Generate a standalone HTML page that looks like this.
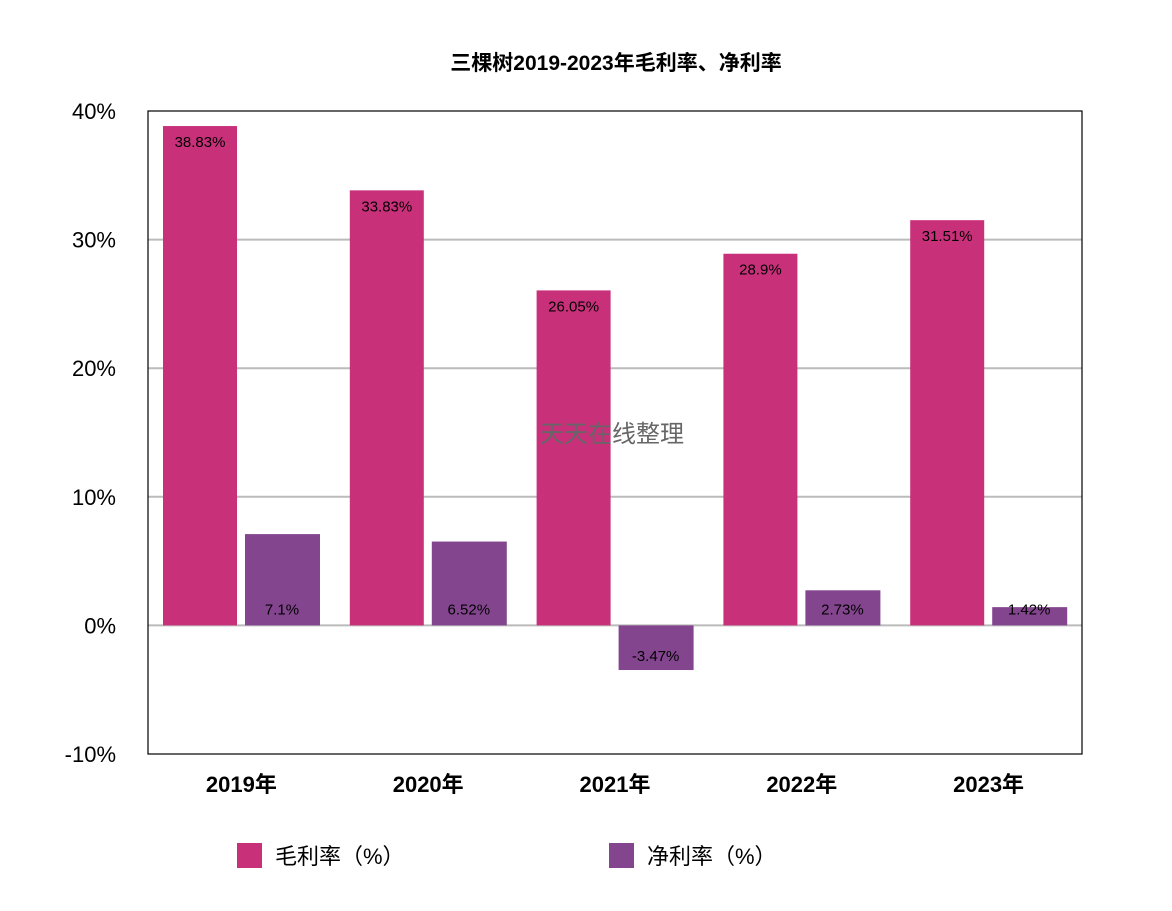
<!DOCTYPE html>
<html><head><meta charset="utf-8"><style>
body{margin:0;background:#fff;}
svg text{font-family:"Liberation Sans","Noto Sans CJK SC",sans-serif;}
</style></head><body>
<svg width="1172" height="906" viewBox="0 0 1172 906">
<text x="616" y="70" text-anchor="middle" font-size="21" font-weight="bold">三棵树2019-2023年毛利率、净利率</text>
<g id="grid"></g>
<g id="bars"></g>
<rect x="148" y="111" width="934" height="643" fill="none" stroke="#000" stroke-width="1.2"/>
<text x="612" y="442" text-anchor="middle" font-size="24" fill="#666">天天在线整理</text>
<g>
<rect x="237" y="843" width="25" height="25" fill="#c9307a"/>
<text x="275" y="864" font-size="22">毛利率（%）</text>
<rect x="609" y="843" width="25" height="25" fill="#84458f"/>
<text x="647" y="864" font-size="22">净利率（%）</text>
</g>
</svg>
<script>
const categories=["2019年","2020年","2021年","2022年","2023年"];
const grossMargin=[38.83,33.83,26.05,28.9,31.51];
const netMargin=[7.1,6.52,-3.47,2.73,1.42];
const yTicks=[-10,0,10,20,30,40];
const ns="http://www.w3.org/2000/svg";
const pLeft=148,pRight=1082,pTop=111,pBottom=754,yMin=-10,yMax=40;
function yScale(v){return pBottom-(v-yMin)/(yMax-yMin)*(pBottom-pTop);}
const bw=(pRight-pLeft)/categories.length;
function mk(tag,attrs,parent,txt){const e=document.createElementNS(ns,tag);for(const k in attrs)e.setAttribute(k,attrs[k]);if(txt!==undefined)e.textContent=txt;parent.appendChild(e);return e;}
const gridG=document.getElementById('grid'),barsG=document.getElementById('bars');
yTicks.forEach(t=>{
  if(t>yMin&&t<yMax){const l=mk('line',{x1:pLeft,x2:pRight,y1:yScale(t),y2:yScale(t),stroke:'#bbb','stroke-width':2},gridG);
  
  }
  const tx=mk('text',{x:116,y:yScale(t)+8,'text-anchor':'end','font-size':22},gridG,t+'%');
  
  
});
categories.forEach((c,i)=>{
  const x0=pLeft+i*bw;
  const g=grossMargin[i],n=netMargin[i];
  const r1=mk('rect',{x:x0+15,y:Math.min(yScale(g),yScale(0)),width:74,height:Math.abs(yScale(g)-yScale(0)),fill:'#c9307a'},barsG);
  
  
  const t1=mk('text',{x:x0+52,y:yScale(g)+21,'text-anchor':'middle','font-size':15},barsG,g+'%');
  
  
  const r2=mk('rect',{x:x0+97,y:Math.min(yScale(n),yScale(0)),width:75,height:Math.abs(yScale(n)-yScale(0)),fill:'#84458f'},barsG);
  
  
  const ly=n>=0?yScale(0)-11:yScale(n)-9;
  const t2=mk('text',{x:x0+134,y:ly,'text-anchor':'middle','font-size':15},barsG,n+'%');
  
  
  const cl=mk('text',{x:x0+bw/2,y:792,'text-anchor':'middle','font-size':22,'font-weight':'bold'},barsG,c);
  
  
});
</script>
</body></html>
